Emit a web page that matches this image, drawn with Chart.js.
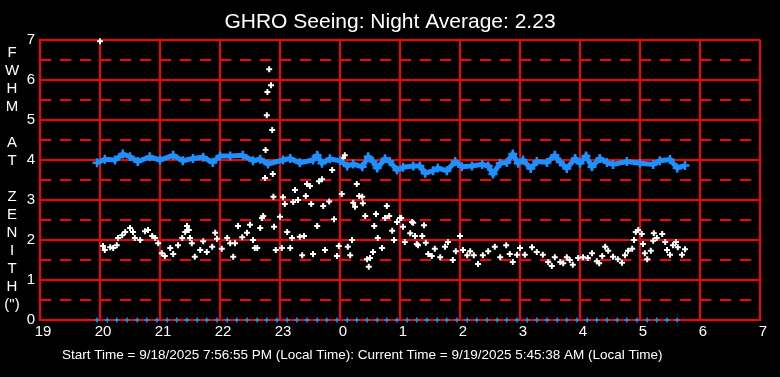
<!DOCTYPE html>
<html>
<head>
<meta charset="utf-8">
<script src="https://cdn.jsdelivr.net/npm/chart.js@4.4.1/dist/chart.umd.min.js"></script>
<style>
  html, body { margin: 0; background: #000; }
  #wrap { width: 780px; height: 377px; position: relative; }
</style>
</head>
<body>
<div id="wrap"><canvas id="seeing"></canvas></div>
<script>
const RED = '#FF0000';
const BLUE = '#1E90FF';
const WHITE = '#FFFFFF';
const FONT = '"Liberation Sans", Arial, sans-serif';

const TITLE = 'GHRO Seeing: Night Average: 2.23';
const FOOTER = 'Start Time = 9/18/2025 7:56:55 PM (Local Time): Current Time = 9/19/2025 5:45:38 AM (Local Time)';
const AXIS_LETTERS = ['F', 'W', 'H', 'M', '', 'A', 'T', '', 'Z', 'E', 'N', 'I', 'T', 'H', '(")'];

// hours since midnight of start day (24+ = after midnight)
const blueTimes = [19.95, 20.08, 20.25, 20.38, 20.50, 20.63, 20.83, 21.00, 21.22, 21.38, 21.55, 21.72, 21.88,
  22.00, 22.17, 22.38, 22.55, 22.67, 22.80, 23.05, 23.17, 23.33, 23.55, 23.62, 23.70, 23.83, 24.00, 24.12,
  24.22, 24.37, 24.47, 24.55, 24.62, 24.75, 24.83, 24.95, 25.05, 25.22, 25.33, 25.42, 25.55, 25.63, 25.78,
  25.92, 26.03, 26.20, 26.37, 26.47, 26.55, 26.67, 26.78, 26.88, 26.97, 27.05, 27.18, 27.28, 27.45, 27.58,
  27.67, 27.78, 27.92, 28.00, 28.10, 28.20, 28.33, 28.45, 28.55, 28.78, 29.00, 29.22, 29.33, 29.50, 29.62, 29.75];
const blueFwhm = [3.93, 4.02, 4.00, 4.15, 4.08, 3.96, 4.08, 4.00, 4.12, 3.98, 4.04, 4.07, 3.94,
  4.10, 4.10, 4.12, 3.98, 4.02, 3.90, 4.00, 4.04, 3.93, 4.00, 4.12, 3.92, 4.03, 3.98, 3.85,
  3.90, 3.83, 4.08, 3.96, 3.80, 4.03, 3.96, 3.75, 3.82, 3.85, 3.85, 3.67, 3.73, 3.80, 3.73,
  3.96, 3.83, 3.85, 3.89, 3.85, 3.65, 3.92, 3.94, 4.15, 3.92, 4.00, 3.79, 3.96, 3.94, 4.12,
  3.95, 3.79, 4.04, 3.92, 4.10, 3.83, 4.04, 3.94, 3.89, 3.96, 3.92, 3.89, 3.98, 4.01, 3.80, 3.86];

const whiteTimes = [20.00, 20.05, 20.08, 20.17, 20.22, 20.28, 20.30, 20.37, 20.42, 20.50, 20.55, 20.58, 20.67,
  20.75, 20.80, 20.87, 20.92, 20.97, 21.03, 21.08, 21.17, 21.22, 21.30, 21.37, 21.42, 21.45, 21.48, 21.50,
  21.53, 21.58, 21.67, 21.72, 21.78, 21.87, 21.92, 21.95, 22.03, 22.12, 22.17, 22.22, 22.25, 22.30, 22.37,
  22.45, 22.50, 22.55, 22.58, 22.62, 22.67, 22.70, 22.72, 22.75, 22.76, 22.78, 22.79, 22.82, 22.85, 22.87,
  22.88, 22.89, 22.90, 22.93, 23.00, 23.03, 23.05, 23.08, 23.12, 23.17, 23.20, 23.22, 23.25, 23.30, 23.33,
  23.37, 23.40, 23.43, 23.45, 23.50, 23.52, 23.55, 23.62, 23.65, 23.70, 23.72, 23.75, 23.82, 23.87, 23.90,
  23.95, 23.98, 24.03, 24.05, 24.08, 24.13, 24.17, 24.20, 24.22, 24.25, 24.28, 24.32, 24.37, 24.38, 24.42,
  24.45, 24.48, 24.50, 24.55, 24.57, 24.60, 24.63, 24.70, 24.75, 24.78, 24.82, 24.87, 24.90, 24.95, 25.00,
  25.02, 25.05, 25.08, 25.17, 25.20, 25.22, 25.25, 25.28, 25.30, 25.37, 25.40, 25.43, 25.47, 25.53, 25.58,
  25.67, 25.75, 25.80, 25.88, 25.93, 26.00, 26.05, 26.12, 26.17, 26.23, 26.30, 26.38, 26.47, 26.58, 26.67,
  26.77, 26.83, 26.88, 26.95, 27.00, 27.08, 27.20, 27.28, 27.38, 27.47, 27.53, 27.58, 27.67, 27.72, 27.78,
  27.83, 27.88, 27.97, 28.05, 28.13, 28.20, 28.28, 28.32, 28.37, 28.42, 28.47, 28.55, 28.63, 28.70, 28.75,
  28.80, 28.87, 28.90, 28.93, 28.97, 29.03, 29.05, 29.08, 29.12, 29.18, 29.22, 29.23, 29.28, 29.37, 29.42,
  29.45, 29.50, 29.55, 29.60, 29.63, 29.70, 29.75];
const whiteFwhm = [6.97, 1.85, 1.75, 1.82, 1.80, 1.87, 2.05, 2.12, 2.20, 2.30, 2.20, 2.05, 2.00,
  2.22, 2.25, 2.10, 2.05, 1.92, 1.67, 1.60, 1.80, 1.65, 1.87, 2.05, 2.20, 2.35, 2.25, 2.05,
  1.92, 1.58, 1.75, 1.97, 1.70, 1.83, 2.18, 2.03, 1.78, 2.05, 1.92, 1.58, 1.92, 2.35, 2.07,
  2.18, 2.38, 2.00, 1.80, 1.80, 2.30, 2.55, 2.60, 3.55, 4.25, 5.12, 5.70, 6.27, 5.87, 4.75,
  3.65, 3.08, 2.33, 1.75, 2.58, 1.80, 3.07, 2.90, 2.20, 1.80, 2.05, 2.95, 3.25, 3.00, 2.08,
  1.62, 2.10, 3.10, 3.40, 3.35, 2.90, 1.65, 2.35, 3.47, 3.52, 2.85, 1.75, 2.96, 3.75, 2.52,
  1.60, 1.85, 3.15, 4.05, 4.12, 1.83, 1.62, 2.00, 2.93, 2.83, 3.40, 3.10, 3.08, 2.92, 2.60,
  1.52, 1.33, 1.55, 1.70, 2.35, 2.65, 2.05, 1.80, 2.55, 2.85, 2.60, 2.23, 2.00, 2.45, 2.55,
  2.55, 2.33, 1.95, 2.17, 2.45, 2.43, 2.10, 1.90, 1.87, 2.10, 2.37, 1.93, 1.65, 1.60, 1.78,
  1.57, 1.83, 1.95, 1.50, 1.72, 2.10, 1.75, 1.62, 1.72, 1.62, 1.40, 1.62, 1.72, 1.83, 1.57,
  1.87, 1.65, 1.45, 1.63, 1.80, 1.63, 1.82, 1.70, 1.63, 1.45, 1.35, 1.57, 1.45, 1.42, 1.57,
  1.50, 1.38, 1.55, 1.57, 1.55, 1.67, 1.47, 1.42, 1.60, 1.83, 1.73, 1.58, 1.52, 1.43, 1.62,
  1.73, 1.78, 2.00, 2.20, 2.25, 2.15, 1.90, 1.67, 1.52, 1.73, 1.98, 2.17, 2.05, 2.15, 1.95,
  1.75, 1.63, 1.87, 1.95, 1.82, 1.63, 1.77];

// sample markers along the zero line
const zeroTimes = [19.95, 20.12, 20.28, 20.45, 20.62, 20.78, 20.95, 21.12, 21.28, 21.45, 21.62, 21.78,
  21.95, 22.12, 22.28, 22.45, 22.62, 22.78, 22.95, 23.12, 23.28, 23.45, 23.62, 23.78, 23.95, 24.12,
  24.28, 24.45, 24.62, 24.78, 24.95, 25.12, 25.28, 25.45, 25.62, 25.78, 25.95, 26.12, 26.28, 26.45,
  26.62, 26.78, 26.95, 27.12, 27.28, 27.45, 27.62, 27.78, 27.95, 28.12, 28.28, 28.45, 28.62, 28.78,
  28.95, 29.12, 29.28, 29.45, 29.62];

const xMin = 19, xMax = 31;
const yMin = 0, yMax = 7;

function pairs(xs, ys) {
  return xs.map((x, i) => ({ x, y: ys[i] }));
}

// dashed red lines at the half units
const halfGrid = {
  id: 'halfGrid',
  beforeDatasetsDraw(chart) {
    const { ctx, chartArea, scales } = chart;
    ctx.save();
    ctx.strokeStyle = RED;
    ctx.lineWidth = 2;
    ctx.setLineDash([11, 9]);
    for (let v = yMin + 0.5; v < yMax; v += 1) {
      const py = Math.round(scales.y.getPixelForValue(v));
      ctx.beginPath();
      ctx.moveTo(chartArea.left, py);
      ctx.lineTo(chartArea.right, py);
      ctx.stroke();
    }
    ctx.restore();
  },
};

const texts = {
  id: 'texts',
  afterDraw(chart) {
    const ctx = chart.ctx;
    ctx.save();
    ctx.fillStyle = WHITE;
    ctx.textBaseline = 'alphabetic';
    ctx.textAlign = 'center';
    ctx.font = '21px ' + FONT;
    ctx.fillText(TITLE, 390, 28);
    ctx.font = '15px ' + FONT;
    ctx.textBaseline = 'middle';
    AXIS_LETTERS.forEach((ch, i) => ctx.fillText(ch, 12, 53 + i * 18));
    ctx.textAlign = 'left';
    ctx.textBaseline = 'alphabetic';
    ctx.font = '13.5px ' + FONT;
    ctx.fillText(FOOTER, 62, 359);
    ctx.restore();
  },
};

new Chart(document.getElementById('seeing'), {
  type: 'scatter',
  data: {
    datasets: [
      {
        label: 'Zenith FWHM',
        data: pairs(blueTimes, blueFwhm),
        showLine: true,
        borderColor: BLUE,
        backgroundColor: BLUE,
        borderWidth: 5,
        pointStyle: 'cross',
        pointRadius: 4.5,
        pointBorderWidth: 2.5,
        pointBorderColor: BLUE,
      },
      {
        label: 'FWHM',
        data: pairs(whiteTimes, whiteFwhm),
        borderColor: WHITE,
        backgroundColor: WHITE,
        pointStyle: 'cross',
        pointRadius: 3,
        pointBorderWidth: 2,
        clip: false,
      },
      {
        label: 'Samples',
        data: zeroTimes.map(x => ({ x, y: 0 })),
        borderColor: BLUE,
        backgroundColor: BLUE,
        pointStyle: 'cross',
        pointRadius: 2.5,
        pointBorderWidth: 1.5,
        clip: false,
      },
    ],
  },
  options: {
    responsive: true,
    maintainAspectRatio: false,
    animation: false,
    layout: { padding: { top: 40, right: 20, left: 0, bottom: 0 } },
    plugins: {
      legend: { display: false },
      tooltip: { enabled: false },
      title: { display: false },
    },
    scales: {
      x: {
        type: 'linear',
        min: xMin,
        max: xMax,
        afterFit: s => { s.height = 57; },
        ticks: {
          stepSize: 1,
          color: WHITE,
          font: { family: FONT, size: 15 },
          padding: 3,
          labelOffset: 3,
          maxRotation: 0,
          callback: v => String(v % 24),
        },
        grid: { color: RED, lineWidth: 2, drawTicks: false },
        border: { color: RED, width: 2 },
      },
      y: {
        min: yMin,
        max: yMax,
        afterFit: s => { s.width = 40; },
        ticks: {
          stepSize: 1,
          color: WHITE,
          font: { family: FONT, size: 15 },
          padding: 5,
        },
        grid: { color: RED, lineWidth: 2, drawTicks: false },
        border: { color: RED, width: 2 },
      },
    },
  },
  plugins: [halfGrid, texts],
});
</script>
</body>
</html>
